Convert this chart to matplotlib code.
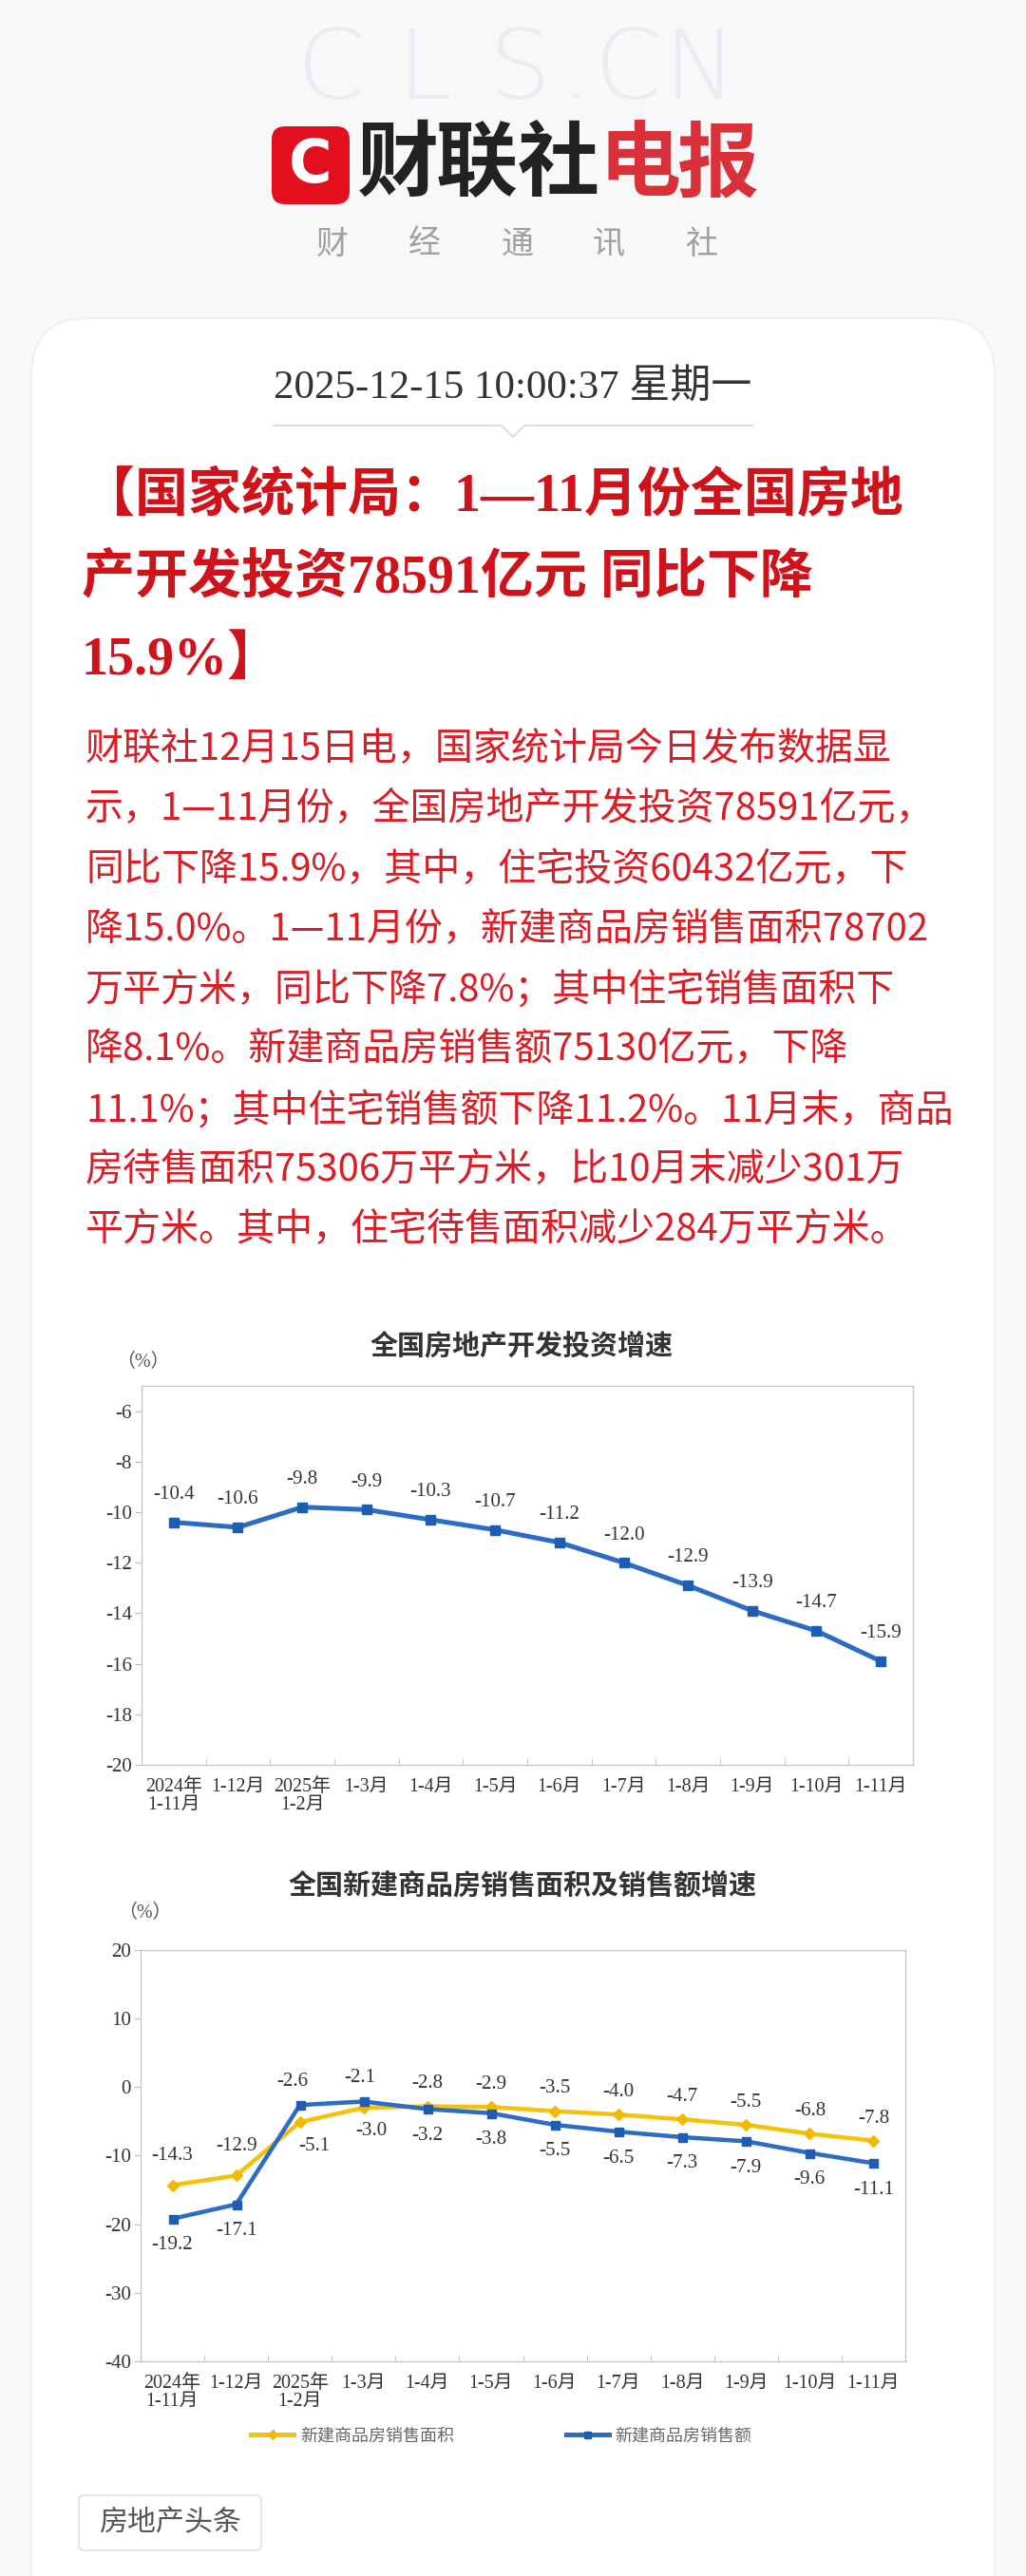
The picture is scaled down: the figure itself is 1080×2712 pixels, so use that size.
import matplotlib.pyplot as plt
from matplotlib.patches import FancyBboxPatch
from matplotlib.lines import Line2D
import numpy as np

W, H = 1080, 2712
P = 0.72  # pixel -> point at dpi 100

SERIF = ['Liberation Serif', 'Noto Sans CJK SC']
SANS = ['Noto Sans CJK SC', 'DejaVu Sans']

plt.rcParams['font.family'] = SERIF
plt.rcParams['axes.unicode_minus'] = False

# data
months = ['2024年\n1-11月', '1-12月', '2025年\n1-2月', '1-3月', '1-4月', '1-5月',
          '1-6月', '1-7月', '1-8月', '1-9月', '1-10月', '1-11月']
invest = [-10.4, -10.6, -9.8, -9.9, -10.3, -10.7, -11.2, -12.0, -12.9, -13.9, -14.7, -15.9]
area = [-14.3, -12.9, -5.1, -3.0, -2.8, -2.9, -3.5, -4.0, -4.7, -5.5, -6.8, -7.8]
amount = [-19.2, -17.1, -2.6, -2.1, -3.2, -3.8, -5.5, -6.5, -7.3, -7.9, -9.6, -11.1]
area_name = '新建商品房销售面积'
amount_name = '新建商品房销售额'

title_lines = ['【国家统计局：1—11月份全国房地',
               '产开发投资78591亿元 同比下降',
               '15.9%】']
body_lines = ['财联社12月15日电，国家统计局今日发布数据显',
              '示，1—11月份，全国房地产开发投资78591亿元，',
              '同比下降15.9%，其中，住宅投资60432亿元，下',
              '降15.0%。1—11月份，新建商品房销售面积78702',
              '万平方米，同比下降7.8%；其中住宅销售面积下',
              '降8.1%。新建商品房销售额75130亿元，下降',
              '11.1%；其中住宅销售额下降11.2%。11月末，商品',
              '房待售面积75306万平方米，比10月末减少301万',
              '平方米。其中，住宅待售面积减少284万平方米。']

BLUE = '#2c6cc2'
YELLOW = '#f4c20d'
RED = '#d0121b'
DARK = '#333333'

fig = plt.figure(figsize=(W / 100, H / 100), dpi=100, facecolor='#f7f8fa')

bg = fig.add_axes([0, 0, 1, 1])
bg.set_xlim(0, W)
bg.set_ylim(H, 0)
bg.axis('off')

# header
for ch, x in zip('CLS.CN', [348, 447, 547, 606, 661, 737]):
    bg.text(x, 104, ch, ha='center', va='baseline', fontsize=102 * P, color='#eaecef',
            family='DejaVu Sans', weight='light')
bg.add_patch(FancyBboxPatch((286, 133), 82, 82, boxstyle='round,pad=0,rounding_size=14',
                            fc='#e2101e', ec='none'))
bg.text(327, 175, 'C', ha='center', va='center', fontsize=62 * P, color='white',
        family='DejaVu Sans', weight='bold')
for ch, x, c in zip('财联社电报', [419, 502, 588, 674, 756],
                    ['#222222'] * 3 + ['#d9303a'] * 2):
    bg.text(x, 174, ch, ha='center', va='center', fontsize=86 * P, color=c,
            family=SANS, weight='black')
for ch, x in zip('财经通讯社', [350, 447, 545, 641, 738]):
    bg.text(x, 257, ch, ha='center', va='center', fontsize=34 * P, color='#a0a0a0',
            family=SANS, weight='light')

# card
bg.add_patch(FancyBboxPatch((33, 335), 1014, 2500, boxstyle='round,pad=0,rounding_size=60',
                            fc='white', ec='#eef0f2', lw=1.5))

bg.text(540, 408, '2025-12-15 10:00:37 星期一', ha='center', va='center',
        fontsize=43 * P, color=DARK)
bg.plot([288, 528, 540, 552, 792], [448, 448, 460, 448, 448], color='#dcdcdc', lw=1.5)

for i, line in enumerate(title_lines):
    bg.text(86, 523 + i * 86, line, ha='left', va='center', fontsize=56 * P,
            color=RED, weight='bold')

for i, line in enumerate(body_lines):
    bg.text(90, 789 + i * 63.3, line, ha='left', va='center', fontsize=40 * P,
            color='#d81e26', family=SANS)


def px_rect(l, t, r, b):
    return [l / W, 1 - b / H, (r - l) / W, (b - t) / H]


def style_axes(ax):
    ax.set_facecolor('white')
    for s in ax.spines.values():
        s.set_color('#c8c8c8')
        s.set_linewidth(1.0)
    ax.set_xlim(-0.5, 11.5)
    ax.set_xticks(range(len(months)))
    ax.set_xticklabels(months)
    ax.tick_params(axis='x', which='major', length=0, pad=14 * P, labelsize=20 * P,
                   labelcolor=DARK)
    ax.set_xticks(np.arange(0.5, 11, 1), minor=True)
    ax.tick_params(axis='x', which='minor', direction='in', length=7 * P, color='#bbbbbb')
    ax.tick_params(axis='y', direction='out', length=7 * P, color='#bbbbbb',
                   labelsize=21 * P, labelcolor=DARK, pad=3 * P)
    for lbl in ax.get_xticklabels():
        lbl.set_linespacing(1.0)


# chart 1
bg.text(549, 1418, '全国房地产开发投资增速', ha='center', va='center', fontsize=29 * P,
        color=DARK, family=SANS, weight='bold')
bg.text(150, 1435, '（%）', ha='center', va='center', fontsize=20 * P, color='#555555')

ax1 = fig.add_axes(px_rect(149, 1459, 961, 1858))
style_axes(ax1)
x = np.arange(len(months))
ax1.plot(x, invest, color=BLUE, lw=5 * P, marker='s', ms=10 * P, mfc='#1f5db3', mec='#1f5db3')
ax1.set_ylim(-20, -5)
ax1.set_yticks(np.arange(-20, -5, 2))
for i, v in enumerate(invest):
    ax1.annotate(f'{v:.1f}', (i, v), xytext=(0, 21), textcoords='offset points',
                 ha='center', va='center', fontsize=21 * P, color=DARK)

# chart 2
bg.text(550, 1986, '全国新建商品房销售面积及销售额增速', ha='center', va='center',
        fontsize=29 * P, color=DARK, family=SANS, weight='bold')
bg.text(152, 2015, '（%）', ha='center', va='center', fontsize=20 * P, color='#555555')

ax2 = fig.add_axes(px_rect(148, 2053, 953, 2486))
style_axes(ax2)
ax2.plot(x, area, color=YELLOW, lw=4.5 * P, marker='D', ms=8 * P, mfc='#f2b900',
         mec='#f2b900', zorder=3)
ax2.plot(x, amount, color=BLUE, lw=4.5 * P, marker='s', ms=9 * P, mfc='#1f5db3',
         mec='#1f5db3', zorder=4)
ax2.set_ylim(-40, 20)
ax2.set_yticks(np.arange(-40, 21, 10))

area_below = [2, 3]
amount_above = [2, 3]
area_dx = {2: 11, 3: 6}
amount_dx = {2: -6, 3: -3}
for i, v in enumerate(area):
    dy = -18 if i in area_below else (22 if i < 2 else 17)
    ax2.annotate(f'{v:.1f}', (i, v), xytext=(area_dx.get(i, 0), dy),
                 textcoords='offset points', ha='center', va='center',
                 fontsize=21 * P, color=DARK)
for i, v in enumerate(amount):
    dy = 18 if i in amount_above else -20
    ax2.annotate(f'{v:.1f}', (i, v), xytext=(amount_dx.get(i, 0), dy),
                 textcoords='offset points', ha='center', va='center',
                 fontsize=21 * P, color=DARK)

handles = [Line2D([], [], color=YELLOW, lw=5 * P, marker='D', ms=7 * P, mfc='#f2b900',
                  mec='#f2b900'),
           Line2D([], [], color=BLUE, lw=5 * P, marker='s', ms=7 * P, mfc='#1f5db3',
                  mec='#1f5db3')]
fig.legend(handles, [area_name, amount_name], loc='center', ncol=2,
           bbox_to_anchor=(528 / W, 1 - 2565 / H), frameon=False,
           prop={'family': SERIF, 'size': 18 * P}, labelcolor='#666666',
           handlelength=2.5, handletextpad=0.4, columnspacing=6.5)

# tag
bg.add_patch(FancyBboxPatch((83, 2627), 192, 58, boxstyle='round,pad=0,rounding_size=6',
                            fc='white', ec='#e0e0e0', lw=1.2))
bg.text(179, 2656, '房地产头条', ha='center', va='center', fontsize=30 * P,
        color='#555555', family=SANS)

fig.savefig('out.png', dpi=100, facecolor=fig.get_facecolor())
